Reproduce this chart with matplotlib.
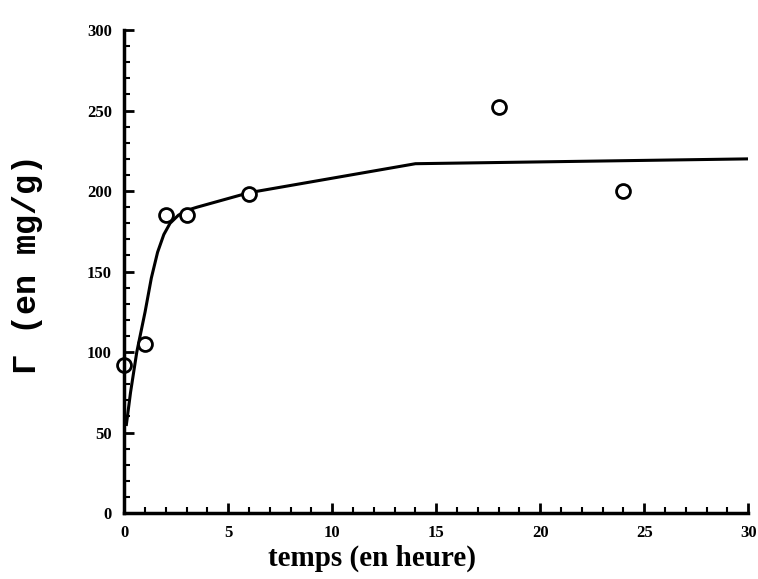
import numpy as np
import matplotlib.pyplot as plt
from matplotlib.ticker import MultipleLocator

# mesures (temps en heure, adsorption en mg/g)
temps = [0, 1, 2, 3, 6, 18, 24]
gamma = [92, 105, 185, 185, 198, 252, 200]

# courbe de lissage
temps_fit = [0.1, 0.3, 0.6, 1.0, 1.3, 1.6, 1.9, 2.2, 2.6, 3.0, 3.5, 6, 10, 14, 30]
gamma_fit = [55, 75, 100, 125, 146, 162, 173, 180, 185, 188, 190, 199, 208, 217, 220]

plt.rcParams['font.family'] = ['Liberation Serif', 'DejaVu Serif']

fig = plt.figure(figsize=(7.58, 5.79), dpi=100)
ax = fig.add_axes([0.164, 0.114, 0.823, 0.834])

ax.plot(temps_fit, gamma_fit, color='black', lw=2.2)
ax.plot(temps, gamma, 'o', mfc='white', mec='black', ms=10, mew=2, clip_on=False)

ax.set_xlim(0, 30)
ax.set_ylim(0, 300)
ax.xaxis.set_major_locator(MultipleLocator(5))
ax.xaxis.set_minor_locator(MultipleLocator(1))
ax.yaxis.set_major_locator(MultipleLocator(50))
ax.yaxis.set_minor_locator(MultipleLocator(10))

for s in ['top', 'right']:
    ax.spines[s].set_visible(False)
for s in ['left', 'bottom']:
    ax.spines[s].set_linewidth(2.5)

ax.tick_params(which='major', direction='in', length=7, width=2, labelsize=12, pad=9)
ax.tick_params(which='minor', direction='in', length=4, width=1.5)
for lab in ax.get_xticklabels() + ax.get_yticklabels():
    lab.set_fontweight('bold')

ax.set_xlabel("temps (en heure)", fontsize=21, fontweight='bold')
ax.xaxis.set_label_coords(0.397, -0.066)
ax.set_ylabel("Γ (en mg/g)", fontsize=24, fontweight='bold',
              family=['Liberation Mono', 'DejaVu Sans Mono'])
ax.yaxis.set_label_coords(-0.13, 0.515)

fig.savefig("out.png", dpi=100)
